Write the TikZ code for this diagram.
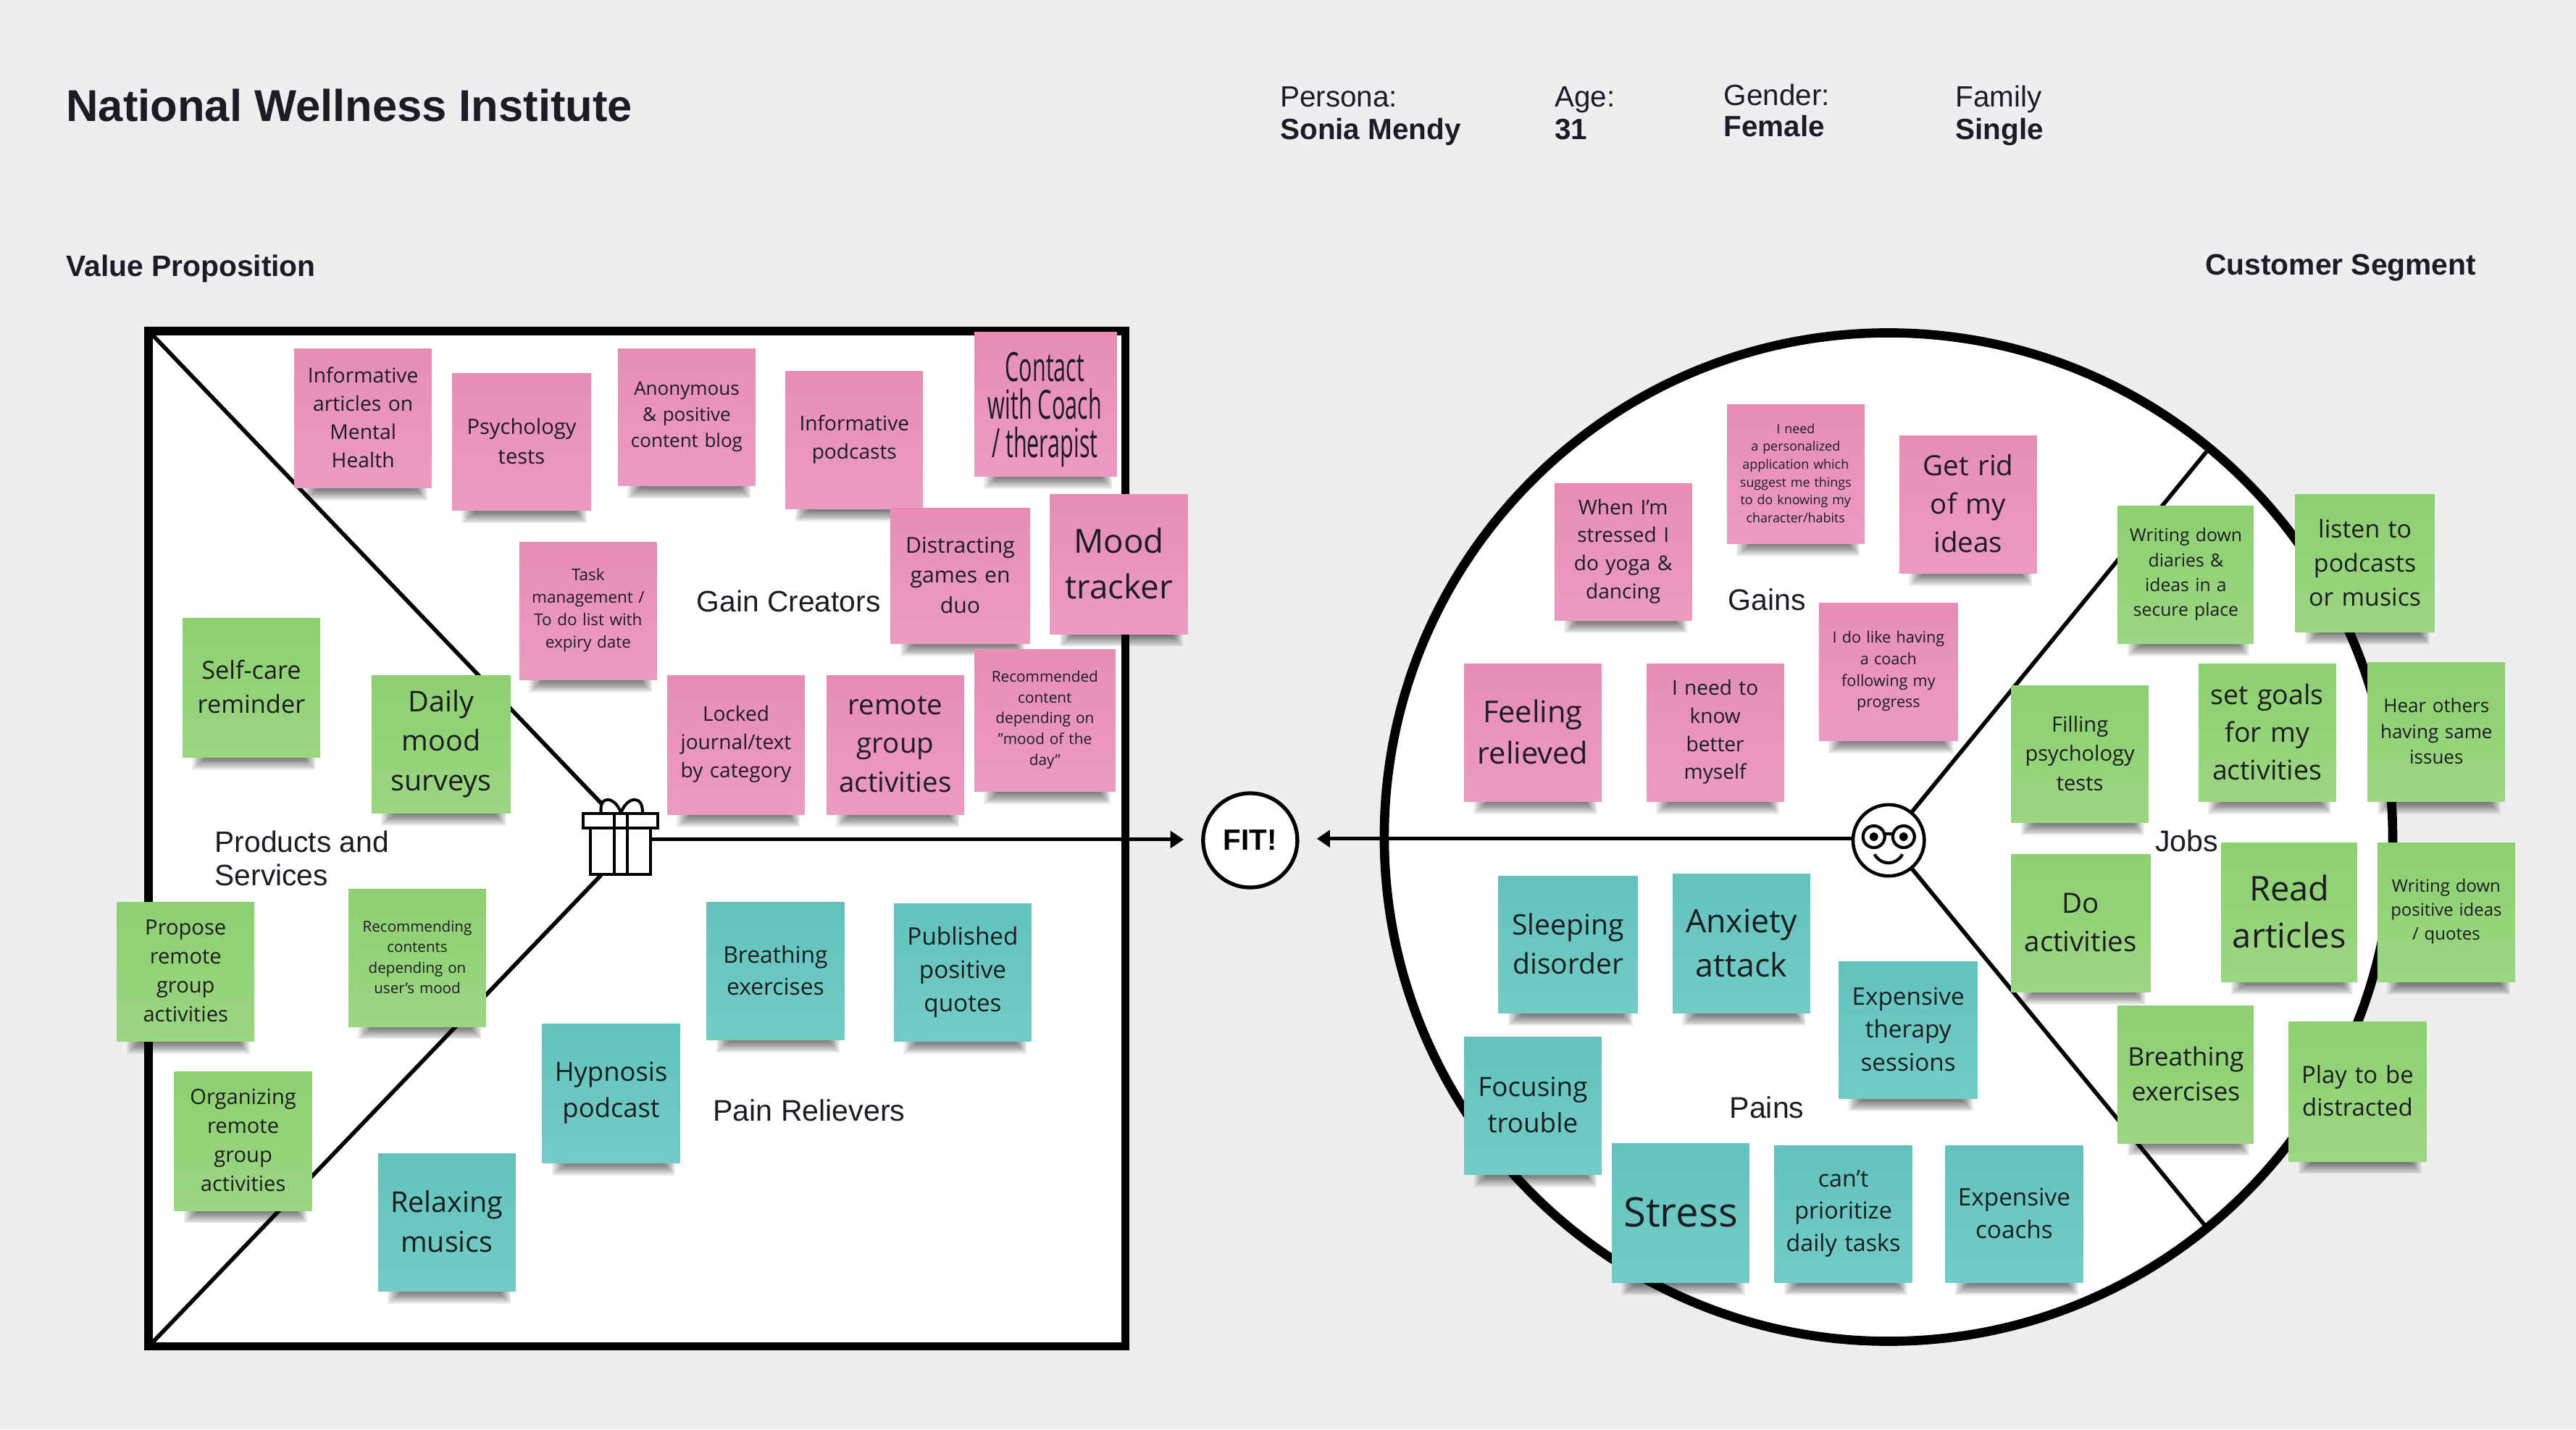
\documentclass[tikz,border=0pt]{standalone}
\usepackage{fontspec}
\setmainfont{Open Sans}
\newfontfamily\hfont{Liberation Sans}
\usetikzlibrary{arrows.meta}
\definecolor{bgc}{RGB}{237,238,240}
\definecolor{pinkA}{RGB}{231,141,180}
\definecolor{pinkB}{RGB}{236,155,192}
\definecolor{greenA}{RGB}{140,208,112}
\definecolor{greenB}{RGB}{155,214,130}
\definecolor{tealA}{RGB}{98,195,188}
\definecolor{tealB}{RGB}{114,204,197}
\definecolor{inkc}{RGB}{28,28,34}
\tikzset{
  x=0.02268cm,y=-0.02268cm,
  stickybase/.style={inner sep=0,outer sep=0,anchor=center,shading angle=0},
  pinknote/.style={stickybase,bottom color=pinkB,top color=pinkA},
  greennote/.style={stickybase,bottom color=greenB,top color=greenA},
  tealnote/.style={stickybase,bottom color=tealB,top color=tealA},
  stickytext/.style={inner sep=0,outer sep=0,align=center,text=inkc,anchor=center,yshift=.3pt},
  heavy/.style={line width=3.3pt,draw=black},
  divider/.style={line width=1.6pt,draw=black},
  flow/.style={line width=1.4pt,draw=black,-{Triangle[length=5.2pt,width=6.6pt]}},
  icon/.style={line width=1.15pt,draw=black},
  lbl/.style={font=\hfont,inner sep=0,text=inkc},
}
% name, style, left, top, right, bottom, font size (picture units), text
\newcommand\sticky[8]{%
  \foreach \i in {0,...,8}{%
    \fill[black,opacity=.07] ({#3+6+\i},#6-2) rectangle ({#5-3-0.8*\i},{#6+7.5-0.8*\i});
  }%
  \pgfmathsetmacro{\fsz}{#7*0.6429*0.92}%
  \pgfmathsetmacro{\lsz}{#7*0.6429*1.27}%
  \pgfmathsetmacro{\wdt}{(#5-#3)*0.6429}%
  \pgfmathsetmacro{\hgt}{(#6-#4)*0.6429}%
  \node[#2,minimum width=\wdt pt,minimum height=\hgt pt] (#1) at ({(#3+#5)/2},{(#4+#6)/2}) {};%
  \node[stickytext,text width=\wdt pt,font=\fontsize{\fsz pt}{\lsz pt}\selectfont] (#1t) at (#1.center) {#8};%
}
\begin{document}
\begin{tikzpicture}
\useasboundingbox[fill=bgc] (0,0) rectangle (1568,870);

% headings
\node[lbl,anchor=base west,font=\hfont\bfseries\fontsize{17.5pt}{20pt}\selectfont] (title) at (40,74) {National Wellness Institute};
\node[lbl,anchor=base west,font=\hfont\fontsize{11.5pt}{14pt}\selectfont] (p1) at (779,65) {Persona:};
\node[lbl,anchor=base west,font=\hfont\bfseries\fontsize{11.5pt}{14pt}\selectfont] (p2) at (779,85) {Sonia Mendy};
\node[lbl,anchor=base west,font=\hfont\fontsize{11.5pt}{14pt}\selectfont] (a1) at (946,65) {Age:};
\node[lbl,anchor=base west,font=\hfont\bfseries\fontsize{11.5pt}{14pt}\selectfont] (a2) at (946,85) {31};
\node[lbl,anchor=base west,font=\hfont\fontsize{11.5pt}{14pt}\selectfont] (g1) at (1049,64) {Gender:};
\node[lbl,anchor=base west,font=\hfont\bfseries\fontsize{11.5pt}{14pt}\selectfont] (g2) at (1049,83) {Female};
\node[lbl,anchor=base west,font=\hfont\fontsize{11.5pt}{14pt}\selectfont] (f1) at (1190,65) {Family};
\node[lbl,anchor=base west,font=\hfont\bfseries\fontsize{11.5pt}{14pt}\selectfont] (f2) at (1190,85) {Single};
\node[lbl,anchor=base west,font=\hfont\bfseries\fontsize{11.6pt}{14pt}\selectfont] (vp) at (40,168) {Value Proposition};
\node[lbl,anchor=base east,font=\hfont\bfseries\fontsize{11.6pt}{14pt}\selectfont] (cs) at (1507.5,167.5) {Customer Segment};

% value map frame
\draw[heavy,fill=white] (90.5,201.5) rectangle (685,819.5);
\coordinate (tl) at (92,203);
\coordinate (bl) at (92,818);
\coordinate (gifttop) at (366,489);
\coordinate (giftbot) at (366,532.5);
\draw[divider] (tl) -- (gifttop);
\draw[divider] (bl) -- (giftbot);

% customer profile circle
\node[circle,draw=black,line width=3.6pt,fill=white,minimum size=396pt,inner sep=0] (bigc) at (1149.5,509.5) {};
\coordinate (ur) at (1343,275);
\coordinate (lr) at (1343,747);
\node[circle,draw=black,line width=1.3pt,fill=white,minimum size=28pt,inner sep=0] (face) at (1149.6,511.5) {};
\draw[divider] (face) -- (ur);
\draw[divider] (face) -- (lr);
% face glasses
\draw[black,line width=1.2pt] (1140.6,509.3) circle (6.6) (1158.7,509.3) circle (6.6) (1147,507.5) -- (1152.3,507.5);
\fill[black] (1140.6,509.3) circle (2.6) (1158.7,509.3) circle (2.6);
\draw[black,line width=1.2pt] (1141,520) .. controls (1145,527) and (1154,527) .. (1158,520);

% fit
\node[circle,draw=black,line width=1.5pt,fill=white,minimum size=37pt,inner sep=0,font=\hfont\bfseries\fontsize{11.5pt}{14pt}\selectfont] (fit) at (761,511.5) {\raisebox{-1.8pt}{FIT!}};
\coordinate (fitl) at (720.5,511);
\coordinate (fitr) at (801.5,510.5);

% gift
\node[inner sep=0,minimum width=23.4pt,minimum height=29pt] (gift) at (378,511) {};
\draw[flow] (gift.east) -- (fitl);
\draw[flow] (face.west |- fitr) -- (fitr);
\draw[icon,fill=white] (359.5,504) rectangle (396,532);
\draw[icon,fill=white] (355,495.3) rectangle (400.5,504);
\draw[icon] (374,495.3) -- (374,532) (382,495.3) -- (382,532);
\draw[icon] (366,495.3) .. controls (364,484) and (374,484) .. (378,494.7);
\draw[icon] (391,495.3) .. controls (392,484) and (382,484) .. (378,494.7);

% section labels
\node[lbl,font=\hfont\fontsize{11.6pt}{14pt}\selectfont] (gc) at (480,366) {Gain Creators};
\node[lbl,anchor=north west,align=left,font=\hfont\fontsize{11.6pt}{13pt}\selectfont] (ps) at (130.5,505.5) {Products and\\Services};
\node[lbl,font=\hfont\fontsize{11.7pt}{14pt}\selectfont] (pr) at (492.5,676) {Pain Relievers};
\node[lbl,font=\hfont\fontsize{11.7pt}{14pt}\selectfont] (gn) at (1075.5,365) {Gains};
\node[lbl,font=\hfont\fontsize{11.7pt}{14pt}\selectfont] (pn) at (1075.5,674) {Pains};
\node[lbl,font=\hfont\fontsize{11.7pt}{14pt}\selectfont] (jb) at (1331,512) {Jobs};

% gain creators
\sticky{n1}{pinknote}{179}{212}{263}{297}{13.6}{Informative\\articles on\\Mental\\Health}
\sticky{n2}{pinknote}{275}{227}{360}{311}{14}{Psychology\\tests}
\sticky{n3}{pinknote}{376}{212}{460}{296}{12.5}{Anonymous\\\& positive\\content blog}
\sticky{n4}{pinknote}{478}{226}{562}{310}{13.5}{Informative\\podcasts}
\sticky{n5}{pinknote}{593}{202}{680}{290}{18}{}
\node[stickytext,yshift=-1.8pt,font=\fontsize{15.5pt}{14.9pt}\selectfont] (n5c) at (636,247) {\scalebox{.56}[1.02]{Contact}\\\scalebox{.56}[1.02]{with Coach}\\\scalebox{.56}[1.02]{/ therapist}};
\sticky{n7}{pinknote}{542}{309}{627}{392}{14.5}{Distracting\\games en\\duo}
\sticky{n6}{pinknote}{639}{301}{723}{386}{22}{Mood\\tracker}
\sticky{n8}{pinknote}{316}{330}{400}{414}{10.8}{Task\\management /\\To do list with\\expiry date}
\sticky{n9}{pinknote}{406}{411}{490}{496}{13.5}{Locked\\journal/text\\by category}
\sticky{n10}{pinknote}{503}{411}{587}{496}{18.5}{remote\\group\\activities}
\sticky{n11}{pinknote}{593}{395}{679}{482}{10}{Recommended\\content\\depending on\\"mood of the\\day"}

% products
\sticky{g1n}{greennote}{111}{376}{195}{461}{16.5}{Self-care\\reminder}
\sticky{g2n}{greennote}{226}{411}{311}{495}{19}{Daily\\mood\\surveys}
\sticky{g3n}{greennote}{212}{541}{296}{625}{9.9}{Recommending\\contents\\depending on\\user's mood}
\sticky{g4n}{greennote}{71}{549}{155}{634}{14}{Propose\\remote\\group\\activities}
\sticky{g5n}{greennote}{106}{652}{190}{737}{14}{Organizing\\remote\\group\\activities}

% pain relievers
\sticky{t1}{tealnote}{430}{549}{514}{633}{15.3}{Breathing\\exercises}
\sticky{t2}{tealnote}{544}{550}{628}{634}{16}{Published\\positive\\quotes}
\sticky{t3}{tealnote}{330}{623}{414}{708}{17.5}{Hypnosis\\podcast}
\sticky{t4}{tealnote}{230}{702}{314}{786}{19}{Relaxing\\musics}

% gains
\sticky{a1n}{pinknote}{946}{294}{1030}{378}{13.5}{When I'm\\stressed I\\do yoga \&\\dancing}
\sticky{a2n}{pinknote}{1051}{246}{1135}{331}{8.6}{I need\\a personalized\\application which\\suggest me things\\to do knowing my\\character/habits}
\sticky{a3n}{pinknote}{1156}{265}{1240}{349}{18.5}{Get rid\\of my\\ideas}
\sticky{a4n}{pinknote}{891}{404}{975}{488}{20}{Feeling\\relieved}
\sticky{a5n}{pinknote}{1002}{404}{1086}{488}{13.5}{I need to\\know\\better\\myself}
\sticky{a6n}{pinknote}{1107}{367}{1192}{451}{10.4}{I do like having\\a coach\\following my\\progress}

% jobs
\sticky{j1}{greennote}{1289}{308}{1372}{392}{11.9}{Writing down\\diaries \&\\ideas in a\\secure place}
\sticky{j2}{greennote}{1397}{301}{1482}{385}{16.3}{listen to\\podcasts\\or musics}
\sticky{j3}{greennote}{1224}{417}{1308}{501}{14}{Filling\\psychology\\tests}
\sticky{j4}{greennote}{1338}{404}{1422}{488}{18}{set goals\\for my\\activities}
\sticky{j5}{greennote}{1441}{403}{1525}{488}{12.5}{Hear others\\having same\\issues}
\sticky{j6}{greennote}{1224}{520}{1309}{604}{18.5}{Do\\activities}
\sticky{j7}{greennote}{1352}{513}{1435}{598}{22.6}{Read\\articles}
\sticky{j8}{greennote}{1447}{513}{1531}{598}{11.5}{Writing down\\positive ideas\\/ quotes}
\sticky{j9}{greennote}{1289}{612}{1372}{696}{17}{Breathing\\exercises}
\sticky{j10}{greennote}{1393}{622}{1477}{707}{15.8}{Play to be\\distracted}

% pains
\sticky{x1}{tealnote}{912}{533}{997}{617}{18.8}{Sleeping\\disorder}
\sticky{x2}{tealnote}{1018}{532}{1102}{617}{21.5}{Anxiety\\attack}
\sticky{x3}{tealnote}{1119}{585}{1204}{669}{16}{Expensive\\therapy\\sessions}
\sticky{x4}{tealnote}{891}{631}{975}{715}{17.7}{Focusing\\trouble}
\sticky{x5}{tealnote}{981}{696}{1065}{781}{27}{Stress}
\sticky{x6}{tealnote}{1080}{697}{1164}{781}{15.5}{can't\\prioritize\\daily tasks}
\sticky{x7}{tealnote}{1184}{697}{1268}{781}{16}{Expensive\\coachs}
\end{tikzpicture}
\end{document}
